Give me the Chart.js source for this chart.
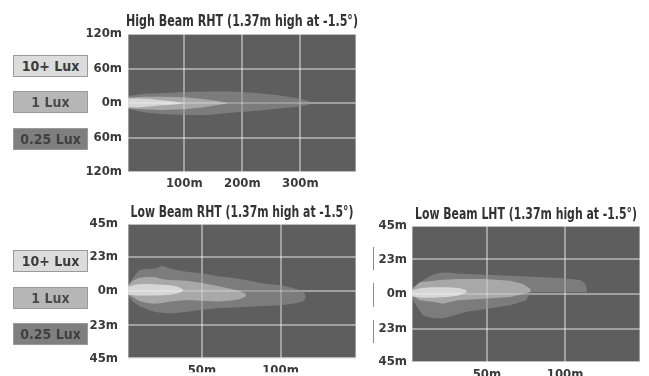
<!DOCTYPE html>
<html>
<head>
<meta charset="utf-8">
<script src="https://cdn.jsdelivr.net/npm/chart.js@4/dist/chart.umd.min.js"></script>
<style>
  body { margin: 0; background: #fff; width: 649px; height: 376px; overflow: hidden; position: relative; }
  .box { position: absolute; width: 75px; height: 22px; border: 1px solid #9a9a9a; box-sizing: border-box;
         font: bold 14px "DejaVu Sans Condensed", sans-serif; text-align: center; line-height: 20px; }
  .mark { position: absolute; left: 373px; width: 0; border-left: 1px solid #8c8c8c; }
  .wrap { position: absolute; }
</style>
</head>
<body>
<div class="wrap" style="left:0;top:0;width:358px;height:190px"><canvas id="high"></canvas></div>
<div class="wrap" style="left:0;top:190px;width:358px;height:186px"><canvas id="lowR"></canvas></div>
<div class="wrap" style="left:360px;top:190px;width:289px;height:186px"><canvas id="lowL"></canvas></div>
<div id="legends"></div>
<script>
// legenda
const luxLabels = ["10+ Lux", "1 Lux", "0.25 Lux"];
const luxColors = ["#dcdcdc", "#b6b6b6", "#7f7f7f"];
const luxText = ["#3c3c3c", "#4a4a4a", "#404040"];

// osie
const hiXTicks = [100, 200, 300];
const hiYTicks = [-120, -60, 0, 60, 120];
const lowXTicks = [50, 100];
const lowYTicks = [-45, -23, 0, 23, 45];

// High Beam RHT (m)
const hiOuterDist = [3, 30, 60, 100, 140, 180, 220, 260, 290, 310, 321];
const hiOuterTop = [12, 16, 17, 19, 20, 20, 18, 14, 9, 5, 1];
const hiOuterBottom = [-10, -16, -19, -21, -21, -17, -14, -10, -7, -4, -1];
const hiMidDist = [3, 30, 60, 100, 130, 155, 174];
const hiMidTop = [9, 11, 11, 10, 7, 4, 0];
const hiMidBottom = [-9, -11, -12, -11, -8, -4, -1];
const hiCoreDist = [3, 20, 40, 60, 80, 98];
const hiCoreTop = [8, 8, 7, 5, 3, 0];
const hiCoreBottom = [-7, -8, -6, -4, -3, -1];

// Low Beam RHT
const rhtOuterDist = [3, 6, 10, 15, 20, 25, 30, 40, 50, 60, 70, 80, 90, 100, 108, 114, 116];
const rhtOuterTop = [3, 9, 14, 15, 15, 17, 15, 13, 12, 10, 9, 7, 5, 4, 2, 0, -3];
const rhtOuterBottom = [-3, -7, -10, -12, -14, -14.5, -15, -14, -12.5, -11.5, -11, -10.5, -10, -9.5, -8.5, -7, -5];
const rhtMidDist = [3, 6, 10, 15, 20, 25, 30, 40, 50, 60, 68, 74, 78];
const rhtMidTop = [4, 7, 9, 9.5, 9.5, 8, 7.5, 7, 5.5, 3.5, 1.5, 0, -2];
const rhtMidBottom = [-2, -4, -6.5, -8, -8.5, -8, -7, -6, -6.5, -7, -6.5, -5.5, -3.5];
const rhtCoreDist = [3, 8, 15, 22, 30, 35, 38];
const rhtCoreTop = [3, 4.5, 5, 4.5, 4, 3, 1];
const rhtCoreBottom = [-2.5, -3, -3, -3, -2.5, -1.5, 0];

// Low Beam LHT
const lhtOuterDist = [2, 5, 9, 12, 16, 22, 26, 31, 37, 50, 65, 75, 78, 97, 110, 113, 114];
const lhtOuterTop = [4, 6.5, 9, 11, 13, 14.3, 14, 13.6, 13.2, 12.7, 12.1, 11.6, 11.4, 10.6, 9.3, 6.6, 3];
const lhtOuterBottom = [-3, -8, -14, -15, -16, -16, -15, -13.5, -11.8, -9.7, -7.5, -4.2, 1.2, 1.2, 1.2, 1.2, 1.2];
const lhtMidDist = [2, 7, 16, 22, 31, 48, 65, 73, 78];
const lhtMidTop = [3, 7.7, 8.8, 9.4, 9.9, 9.9, 8.8, 6.6, 3.3];
const lhtMidBottom = [-1, -4.2, -5.3, -6.4, -4.2, -3.1, -2, 0, 1.5];
const lhtCoreDist = [2, 8, 15, 25, 32, 37];
const lhtCoreTop = [2.5, 4, 4.5, 4.5, 4, 2.5];
const lhtCoreBottom = [-1.5, -2.5, -2.5, -2, -1, 1];

const FONT = '"DejaVu Sans Condensed", "Liberation Sans", sans-serif';

// pola legendy po lewej + obciete ramki po prawej
const legends = document.getElementById("legends");
[55, 250].forEach(top0 => {
  const gaps = top0 == 55 ? [0, 36, 73] : [0, 37, 73];
  luxLabels.forEach((lab, i) => {
    const d = document.createElement("div");
    d.className = "box";
    d.style.left = "13px";
    d.style.top = (top0 + gaps[i]) + "px";
    d.style.background = luxColors[i];
    d.style.color = luxText[i];
    d.textContent = lab;
    legends.appendChild(d);
  });
});
[[247, 23], [283, 24], [320, 23]].forEach(m => {
  const d = document.createElement("div");
  d.className = "mark";
  d.style.top = m[0] + "px";
  d.style.height = m[1] + "px";
  legends.appendChild(d);
});

function zone(dist, top, bottom, color) {
  return [{
    data: dist.map((x, i) => ({x: x, y: top[i]})),
    showLine: true, pointRadius: 0, borderWidth: 1, borderColor: "transparent",
    backgroundColor: color, fill: "+1"
  }, {
    data: dist.map((x, i) => ({x: x, y: bottom[i]})),
    showLine: true, pointRadius: 0, borderWidth: 1, borderColor: "transparent", fill: false
  }];
}

const panel = {
  id: "panel",
  beforeDraw(chart) {
    const a = chart.chartArea, c = chart.ctx;
    c.save();
    c.fillStyle = "#5e5e5e";
    c.fillRect(a.left, a.top, a.right - a.left, a.bottom - a.top);
    c.restore();
  },
  afterDatasetsDraw(chart) {
    const a = chart.chartArea, c = chart.ctx;
    chart.scales.x.drawGrid(a);
    chart.scales.y.drawGrid(a);
    c.save();
    c.strokeStyle = "rgba(220,220,220,0.5)";
    c.lineWidth = 1;
    c.strokeRect(a.left + 0.5, a.top + 0.5, a.right - a.left - 1, a.bottom - a.top - 1);
    c.restore();
  },
  afterDraw(chart, args, opts) {
    // tytul scisniety w poziomie jak w oryginale
    const a = chart.chartArea, c = chart.ctx;
    c.save();
    c.font = "bold 15px " + FONT;
    c.fillStyle = "#333";
    c.textAlign = "center";
    c.textBaseline = "alphabetic";
    const w = c.measureText(opts.title).width;
    c.translate((a.left + a.right) / 2, opts.titleY);
    c.scale(opts.titleW / w, 1);
    c.fillText(opts.title, 0, 0);
    c.restore();
  }
};

function makeChart(id, cfg) {
  const datasets = [].concat(
    zone(cfg.core[0], cfg.core[1], cfg.core[2], "#d6d6d6"),
    zone(cfg.mid[0], cfg.mid[1], cfg.mid[2], "#a8a8a8"),
    zone(cfg.outer[0], cfg.outer[1], cfg.outer[2], "#7c7c7c")
  );
  const grid = {color: "rgba(255,255,255,0.24)", lineWidth: 2, drawTicks: false};
  return new Chart(id, {
    type: "scatter",
    data: {datasets: datasets},
    plugins: [panel],
    options: {
      responsive: true,
      maintainAspectRatio: false,
      animation: false,
      layout: {padding: {top: cfg.padTop, right: cfg.padRight, left: 0, bottom: 0}},
      plugins: {
        legend: {display: false},
        tooltip: {enabled: false},
        panel: {title: cfg.title, titleY: cfg.titleY, titleW: cfg.titleW}
      },
      scales: {
        x: {
          type: "linear", min: cfg.xMin, max: cfg.xMax,
          grid: grid, border: {display: false},
          afterBuildTicks: s => { s.ticks = cfg.xTicks.map(v => ({value: v})); },
          afterFit: s => { s.height = cfg.xH; },
          ticks: {padding: cfg.xPad, color: "#3a3a3a", font: {family: FONT, size: 13, weight: "bold"},
                  maxRotation: 0, autoSkip: false, callback: v => v + "m"}
        },
        y: {
          min: cfg.yTicks[0], max: cfg.yTicks[cfg.yTicks.length - 1],
          grid: grid, border: {display: false},
          afterBuildTicks: s => { s.ticks = cfg.yTicks.map(v => ({value: v})); },
          afterFit: s => { s.width = cfg.yW; },
          ticks: {padding: cfg.yPad, color: "#3a3a3a", font: {family: FONT, size: 13, weight: "bold"},
                  autoSkip: false, callback: v => Math.abs(v) + "m"}
        }
      }
    }
  });
}

makeChart("high", {
  title: "High Beam RHT (1.37m high at -1.5°)", titleY: 26, titleW: 232,
  core: [hiCoreDist, hiCoreTop, hiCoreBottom],
  mid: [hiMidDist, hiMidTop, hiMidBottom],
  outer: [hiOuterDist, hiOuterTop, hiOuterBottom],
  xMin: 3, xMax: 396, xTicks: hiXTicks, yTicks: hiYTicks,
  padTop: 34, padRight: 2, xH: 18, xPad: 4, yW: 128, yPad: 6
});

makeChart("lowR", {
  title: "Low Beam RHT (1.37m high at -1.5°)", titleY: 27, titleW: 223,
  core: [rhtCoreDist, rhtCoreTop, rhtCoreBottom],
  mid: [rhtMidDist, rhtMidTop, rhtMidBottom],
  outer: [rhtOuterDist, rhtOuterTop, rhtOuterBottom],
  xMin: 3, xMax: 148, xTicks: lowXTicks, yTicks: lowYTicks,
  padTop: 34, padRight: 2, xH: 14, xPad: 5, yW: 128, yPad: 10
});

makeChart("lowL", {
  title: "Low Beam LHT (1.37m high at -1.5°)", titleY: 29, titleW: 222,
  core: [lhtCoreDist, lhtCoreTop, lhtCoreBottom],
  mid: [lhtMidDist, lhtMidTop, lhtMidBottom],
  outer: [lhtOuterDist, lhtOuterTop, lhtOuterBottom],
  xMin: 2, xMax: 148, xTicks: lowXTicks, yTicks: lowYTicks,
  padTop: 36, padRight: 9, xH: 14, xPad: 5, yW: 52, yPad: 5
});
</script>
</body>
</html>
